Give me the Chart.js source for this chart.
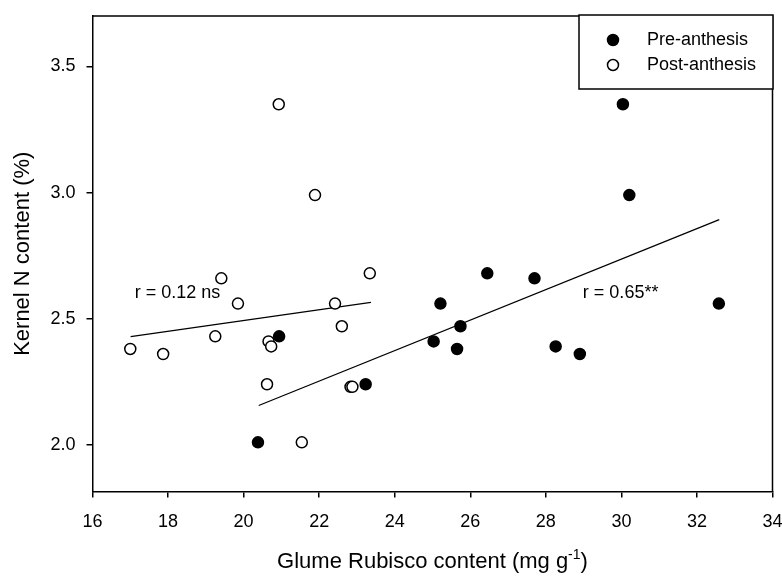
<!DOCTYPE html>
<html>
<head>
<meta charset="utf-8">
<script src="https://cdn.jsdelivr.net/npm/chart.js@4.4.0/dist/chart.umd.min.js"></script>
<style>
  body { margin: 0; background: #fff; }
  canvas { display: block; }
</style>
</head>
<body>
<canvas id="chart" width="782" height="578"></canvas>
<script>
// values
const preX = [20.38, 20.94, 23.23, 25.03, 25.21, 25.65, 25.74, 26.45, 27.70, 28.26, 28.90, 30.04, 30.21, 32.58];
const preY = [2.01, 2.43, 2.24, 2.41, 2.56, 2.38, 2.47, 2.68, 2.66, 2.39, 2.36, 3.35, 2.99, 2.56];
const postX = [17.00, 17.87, 19.25, 19.41, 19.85, 20.62, 20.66, 20.73, 20.93, 21.54, 21.89, 22.42, 22.60, 22.83, 22.88, 23.34];
const postY = [2.38, 2.36, 2.43, 2.66, 2.56, 2.24, 2.41, 2.39, 3.35, 2.01, 2.99, 2.56, 2.47, 2.23, 2.23, 2.68];

// regression lines (end points)
const preFitX = [20.40, 32.59];
const preFitY = [2.156, 2.893];
const postFitX = [17.01, 23.37];
const postFitY = [2.429, 2.565];

const xTicks = [16, 18, 20, 22, 24, 26, 28, 30, 32, 34];
const yTicks = [2.0, 2.5, 3.0, 3.5];

const labels = [
    { text: 'r = 0.12 ns', x: 17.12, y: 2.6 },
    { text: 'r = 0.65**', x: 28.98, y: 2.6 }
];

const FONT = 'Liberation Sans, Arial, sans-serif';

function toPoints(xs, ys) {
    return xs.map((x, i) => ({ x: x, y: ys[i] }));
}

// box round the plot, legend, r labels and x title
const extras = {
    id: 'extras',
    afterDraw(chart) {
        const ctx = chart.ctx;
        const area = chart.chartArea;
        const xs = chart.scales.x;
        const ys = chart.scales.y;
        ctx.save();
        ctx.strokeStyle = '#000';
        ctx.lineWidth = 1.5;
        ctx.beginPath();
        ctx.moveTo(area.left, area.top);
        ctx.lineTo(area.right, area.top);
        ctx.lineTo(area.right, area.bottom);
        ctx.stroke();

        ctx.fillStyle = '#000';
        ctx.font = '18px ' + FONT;
        ctx.textBaseline = 'middle';
        ctx.textAlign = 'left';
        labels.forEach(l => {
            ctx.fillText(l.text, xs.getPixelForValue(l.x), ys.getPixelForValue(l.y));
        });

        // legend
        ctx.fillStyle = '#fff';
        ctx.fillRect(579, 15, 194, 74);
        ctx.strokeRect(579, 15, 194, 74);
        const items = [
            { ds: chart.data.datasets[0], y: 40 },
            { ds: chart.data.datasets[1], y: 65 }
        ];
        items.forEach(it => {
            ctx.beginPath();
            ctx.arc(613, it.y, 5.5, 0, Math.PI * 2);
            ctx.fillStyle = it.ds.backgroundColor;
            ctx.fill();
            ctx.lineWidth = 1.5;
            ctx.strokeStyle = '#000';
            ctx.stroke();
            ctx.fillStyle = '#000';
            ctx.fillText(it.ds.label, 647, it.y);
        });

        // x axis title with superscript
        const main = 'Glume Rubisco content (mg g';
        ctx.font = '22px ' + FONT;
        const w1 = ctx.measureText(main).width;
        ctx.font = '14px ' + FONT;
        const w2 = ctx.measureText('-1').width;
        ctx.font = '22px ' + FONT;
        const w3 = ctx.measureText(')').width;
        let x0 = (area.left + area.right) / 2 - (w1 + w2 + w3) / 2;
        const base = 568;
        ctx.textBaseline = 'alphabetic';
        ctx.fillText(main, x0, base);
        ctx.font = '14px ' + FONT;
        ctx.fillText('-1', x0 + w1, base - 9);
        ctx.font = '22px ' + FONT;
        ctx.fillText(')', x0 + w1 + w2, base);
        ctx.restore();
    }
};

new Chart(document.getElementById('chart'), {
    type: 'scatter',
    data: {
        datasets: [
            {
                label: 'Pre-anthesis',
                data: toPoints(preX, preY),
                backgroundColor: '#000',
                borderColor: '#000',
                borderWidth: 1.5,
                pointRadius: 5.5
            },
            {
                label: 'Post-anthesis',
                data: toPoints(postX, postY),
                backgroundColor: '#fff',
                borderColor: '#000',
                borderWidth: 1.5,
                pointRadius: 5.5
            },
            {
                label: 'pre fit',
                data: toPoints(preFitX, preFitY),
                showLine: true,
                borderColor: '#000',
                borderWidth: 1.3,
                pointRadius: 0
            },
            {
                label: 'post fit',
                data: toPoints(postFitX, postFitY),
                showLine: true,
                borderColor: '#000',
                borderWidth: 1.3,
                pointRadius: 0
            }
        ]
    },
    options: {
        responsive: false,
        animation: false,
        devicePixelRatio: 1,
        layout: { padding: { left: 0, top: 16, right: 9.5, bottom: 0 } },
        plugins: {
            legend: { display: false },
            tooltip: { enabled: false }
        },
        scales: {
            x: {
                type: 'linear',
                min: 16,
                max: 34,
                afterBuildTicks: s => { s.ticks = xTicks.map(v => ({ value: v })); },
                afterFit: s => {
                    s.height = 86.5;
                    s.paddingLeft = 0;
                    s.paddingRight = 0;
                },
                grid: { drawOnChartArea: false, tickLength: 6, color: '#000', lineWidth: 1.5 },
                border: { color: '#000', width: 1.5 },
                ticks: { color: '#000', font: { family: FONT, size: 18 }, padding: 14, maxRotation: 0 }
            },
            y: {
                type: 'linear',
                min: 1.815,
                max: 3.7,
                afterBuildTicks: s => { s.ticks = yTicks.map(v => ({ value: v })); },
                afterFit: s => {
                    s.width = 92.5;
                    s.paddingTop = 0;
                    s.paddingBottom = 0;
                },
                grid: { drawOnChartArea: false, tickLength: 6, color: '#000', lineWidth: 1.5 },
                border: { color: '#000', width: 1.5 },
                ticks: {
                    color: '#000',
                    font: { family: FONT, size: 18 },
                    padding: 11,
                    callback: v => Number(v).toFixed(1)
                },
                title: {
                    display: true,
                    text: 'Kernel N content (%)',
                    color: '#000',
                    font: { family: FONT, size: 22 },
                    padding: { top: 10, bottom: 0 }
                }
            }
        }
    },
    plugins: [extras]
});
</script>
</body>
</html>
